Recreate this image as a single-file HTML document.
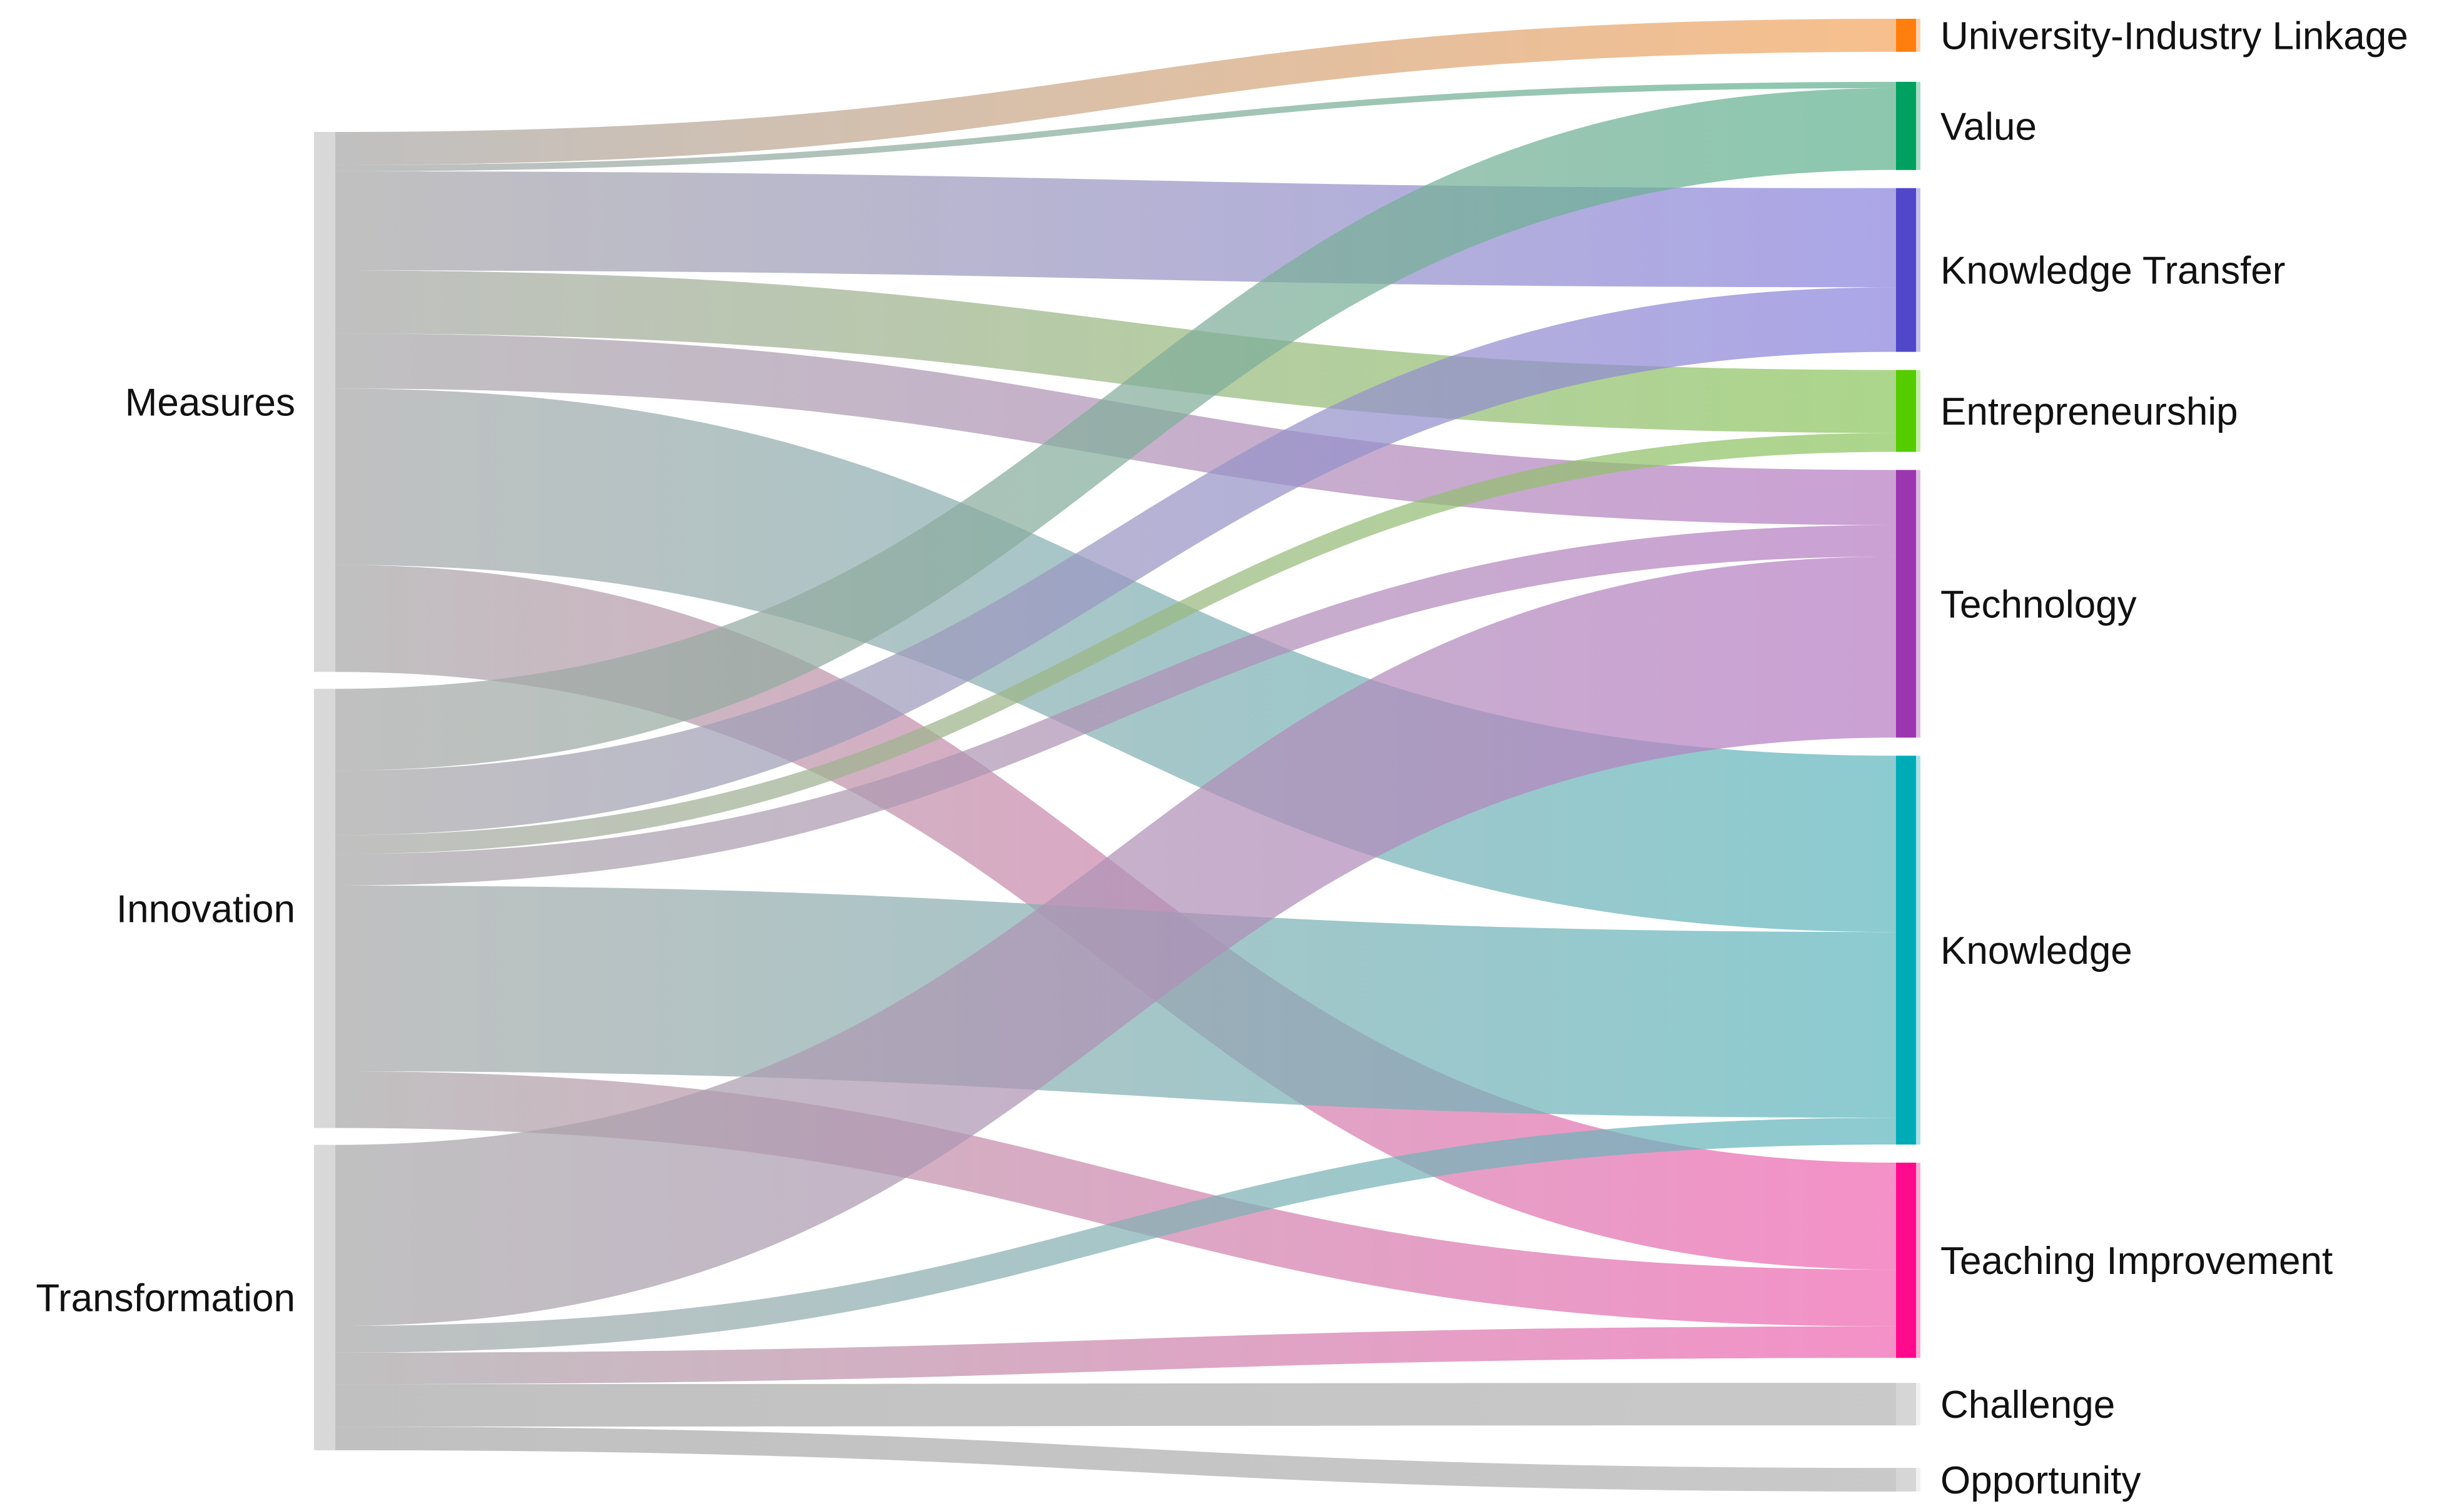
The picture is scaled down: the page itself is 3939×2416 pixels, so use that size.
<!DOCTYPE html>
<html><head><meta charset="utf-8">
<style>
html,body{margin:0;padding:0;background:#fff;}
svg{display:block;}
text{font-family:"Liberation Sans",sans-serif;fill:#111;}
</style></head>
<body>
<svg id="chart" width="3939" height="2416" viewBox="0 0 3939 2416" xmlns="http://www.w3.org/2000/svg">
<defs id="defs"></defs>
<g id="links"></g>
<g id="nodes"></g>
<g id="labels"></g>
</svg>
<script>
const sourceNames = ["Measures", "Innovation", "Transformation"];
const targetNames = ["University-Industry Linkage", "Value", "Knowledge Transfer", "Entrepreneurship", "Technology", "Knowledge", "Teaching Improvement", "Challenge", "Opportunity"];
const linkSources = [0,0,0,0,0,0,0, 1,1,1,1,1,1, 2,2,2,2,2];
const linkTargets = [0,1,2,3,4,5,6, 1,2,3,4,5,6, 4,5,6,7,8];
const linkValues  = [21,4,63,40,35,112,68, 52,41,12,20,118,36, 115,17,20,27,15];

const targetColors = ["#ff7f0e","#00a060","#5048c8","#55cc00","#9c35b0","#00abb8","#ff0a8c","#d6d6d6","#d6d6d6"];
const linkColors = ["#f4a660","#5fb28f","#8b84de","#8cc65e","#b77cc4","#5fb7be","#f066b2","#b4b4b4","#b4b4b4"];

const NS = "http://www.w3.org/2000/svg";
const K = 2.517;
const leftX0 = 502, leftX1 = 536, rightX0 = 3031, rightX1 = 3063;
const leftTop = 211, leftPad = 27, rightTop = 30, rightPad = 29;
const extraGap = {0:19, 6:11, 7:39};

function mk(tag, attrs, parent){const e=document.createElementNS(NS,tag);for(const k in attrs)e.setAttribute(k,attrs[k]);parent.appendChild(e);return e;}

const srcTot = sourceNames.map((_,i)=>linkValues.reduce((s,v,j)=>s+(linkSources[j]===i?v:0),0));
const tgtTot = targetNames.map((_,i)=>linkValues.reduce((s,v,j)=>s+(linkTargets[j]===i?v:0),0));
const srcY = []; let y=leftTop;
srcTot.forEach((t,i)=>{srcY.push(y); y+=t*K+leftPad;});
const tgtY = []; y=rightTop;
tgtTot.forEach((t,i)=>{tgtY.push(y); y+=t*K+rightPad+(extraGap[i]||0);});

const defs=document.getElementById('defs');
const gL=document.getElementById('links'), gN=document.getElementById('nodes'), gT=document.getElementById('labels');

const sOff = srcY.slice();
const order = linkValues.map((_,i)=>i);
const tStart = {};
targetNames.forEach((_,t)=>{let o=tgtY[t];order.filter(i=>linkTargets[i]===t).sort((a,b)=>linkSources[a]-linkSources[b]).forEach(i=>{tStart[i]=o;o+=linkValues[i]*K;});});
order.forEach(i=>{
  const h=linkValues[i]*K;
  const y0=sOff[linkSources[i]]; sOff[linkSources[i]]+=h;
  const y1=tStart[i];
  const gid='g'+i;
  const gr=mk('linearGradient',{id:gid,x1:'0',x2:'1',y1:'0',y2:'0'},defs);
  mk('stop',{offset:'0','stop-color':'#a8a8a8'},gr);
  mk('stop',{offset:'1','stop-color':linkColors[linkTargets[i]]},gr);
  const xa=leftX1, xb=rightX0, xm=(xa+xb)/2;
  const d=`M${xa},${y0} C${xm},${y0} ${xm},${y1} ${xb},${y1} L${xb},${y1+h} C${xm},${y1+h} ${xm},${y0+h} ${xa},${y0+h} Z`;
  const p=mk('path',{d:d,fill:`url(#${gid})`,'fill-opacity':'0.72'},gL);
  
  
});

sourceNames.forEach((n,i)=>{
  const h=srcTot[i]*K;
  const r=mk('rect',{x:leftX0,y:srcY[i],width:leftX1-leftX0,height:h,fill:'#d8d8d8'},gN);
  
  
  const t=mk('text',{x:472,y:srcY[i]+h/2+22,'text-anchor':'end','font-size':'62'},gT);
  t.textContent=n;
  
  
});
targetNames.forEach((n,i)=>{
  const h=tgtTot[i]*K;
  mk('rect',{x:rightX0,y:tgtY[i],width:rightX1-rightX0+7,height:h,fill:targetColors[i],'fill-opacity':'0.35'},gN);
  const r=mk('rect',{x:rightX0,y:tgtY[i],width:rightX1-rightX0,height:h,fill:targetColors[i]},gN);
  
  
  const t=mk('text',{x:3102,y:tgtY[i]+h/2+22,'font-size':'62'},gT);
  t.textContent=n;
  
  
});
</script>
</body></html>
